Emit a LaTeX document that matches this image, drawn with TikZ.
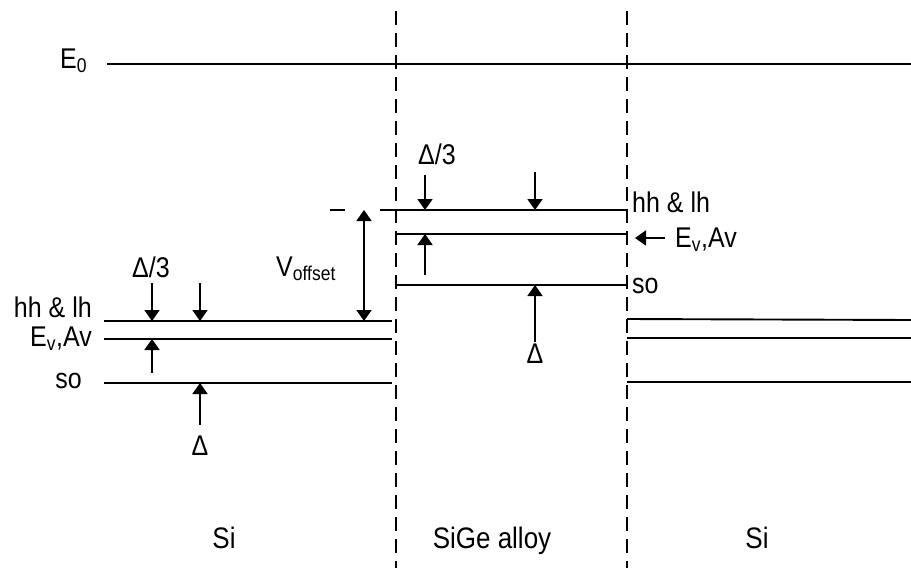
\documentclass[tikz,border=0pt]{standalone}
\usepackage{fontspec}
\setmainfont{Liberation Sans}
\usetikzlibrary{arrows.meta}
\newcommand{\tallt}[1]{\scalebox{1}[1.14]{#1}}
\begin{document}
\begin{tikzpicture}[x=1pt,y=-1pt,
  lvl/.style={line width=1.9pt},
  arr/.style={line width=1.9pt,-{Triangle[length=11pt,width=15pt]}},
  darr/.style={line width=1.9pt,{Triangle[length=11pt,width=15pt]}-{Triangle[length=11pt,width=15pt]}},
  bnd/.style={line width=1.8pt,dash pattern=on 14pt off 8pt},
  lab/.style={font=\fontsize{25}{28}\selectfont,inner sep=0pt},
  reg/.style={font=\fontsize{26}{29}\selectfont,inner sep=0pt,anchor=base}]
\useasboundingbox (0,0) rectangle (911,568);
% boundaries
\draw[bnd] (396,11) -- (396,568);
\draw[bnd] (627,11) -- (627,568);
% E0
\node[lab,anchor=base west] (e0) at (60,68) {\tallt{E\textsubscript{0}}};
\coordinate (e0a) at (107,64);
\coordinate (e0b) at (911,64);
\draw[lvl] (e0a) -- (e0b);
% left Si levels
\coordinate (lhhA) at (104,321); \coordinate (lhhB) at (392,321);
\coordinate (levA) at (104,339); \coordinate (levB) at (392,339);
\coordinate (lsoA) at (104,383); \coordinate (lsoB) at (392,383);
\draw[lvl] (lhhA) -- (lhhB);
\draw[lvl] (levA) -- (levB);
\draw[lvl] (lsoA) -- (lsoB);
\node[lab,anchor=base east] (lhh) at (92,317) {\tallt{hh \& lh}};
\node[lab,anchor=base east] (lev) at (92,346) {\tallt{E\textsubscript{v},Av}};
\node[lab,anchor=base east] (lso) at (82,388) {\tallt{so}};
% left arrows
\node[lab,anchor=base] (ld3) at (151,277) {\tallt{Δ/3}};
\coordinate (la1) at (152,283); \coordinate (la1e) at (152,321);
\coordinate (la2) at (200,283); \coordinate (la2e) at (200,321);
\coordinate (la3) at (152,373); \coordinate (la3e) at (152,339);
\coordinate (la4) at (200,425); \coordinate (la4e) at (200,383);
\draw[arr] (la1) -- (la1e);
\draw[arr] (la2) -- (la2e);
\draw[arr] (la3) -- (la3e);
\draw[arr] (la4) -- (la4e);
\node[lab,anchor=base] (ld) at (200,455) {\tallt{Δ}};
% V offset
\node[lab,anchor=base west] (voff) at (276,276) {\tallt{V\textsubscript{offset}}};
\coordinate (vt) at (364,210); \coordinate (vb) at (364,321);
\draw[darr] (vt) -- (vb);
\coordinate (vdA) at (330,210); \coordinate (vdB) at (345,210);
\draw[lvl] (vdA) -- (vdB);
% SiGe levels
\coordinate (shhA) at (380,210); \coordinate (shhB) at (627,210);
\coordinate (sevA) at (396,234); \coordinate (sevB) at (627,234);
\coordinate (ssoA) at (396,285); \coordinate (ssoB) at (627,285);
\draw[lvl] (shhA) -- (shhB);
\draw[lvl] (sevA) -- (sevB);
\draw[lvl] (ssoA) -- (ssoB);
\node[lab,anchor=base] (sd3) at (437,164) {\tallt{Δ/3}};
\coordinate (sa1) at (425,175); \coordinate (sa1e) at (425,210);
\coordinate (sa2) at (535,172); \coordinate (sa2e) at (535,210);
\coordinate (sa3) at (425,275); \coordinate (sa3e) at (425,234);
\coordinate (sa4) at (535,342); \coordinate (sa4e) at (535,285);
\draw[arr] (sa1) -- (sa1e);
\draw[arr] (sa2) -- (sa2e);
\draw[arr] (sa3) -- (sa3e);
\draw[arr] (sa4) -- (sa4e);
\node[lab,anchor=base] (sd) at (535,363) {\tallt{Δ}};
% right labels
\node[lab,anchor=base west] (rhh) at (632,212) {\tallt{hh \& lh}};
\coordinate (rat) at (665,238); \coordinate (rah) at (635,238);
\draw[arr] (rat) -- (rah);
\node[lab,anchor=base west] (rev) at (675,247) {\tallt{E\textsubscript{v},Av}};
\node[lab,anchor=base west] (rso) at (632,293) {\tallt{so}};
% right Si levels
\coordinate (rhhA) at (627,319); \coordinate (rhhB) at (911,320);
\coordinate (revA) at (627,338); \coordinate (revB) at (911,338);
\coordinate (rsoA) at (627,382); \coordinate (rsoB) at (911,382);
\draw[lvl] (rhhA) -- (rhhB);
\draw[lvl] (revA) -- (revB);
\draw[lvl] (rsoA) -- (rsoB);
% region labels
\node[reg] (si1) at (224,548) {\tallt{Si}};
\node[reg] (sige) at (492,548) {\tallt{SiGe alloy}};
\node[reg] (si2) at (757,548) {\tallt{Si}};
\end{tikzpicture}
\end{document}
